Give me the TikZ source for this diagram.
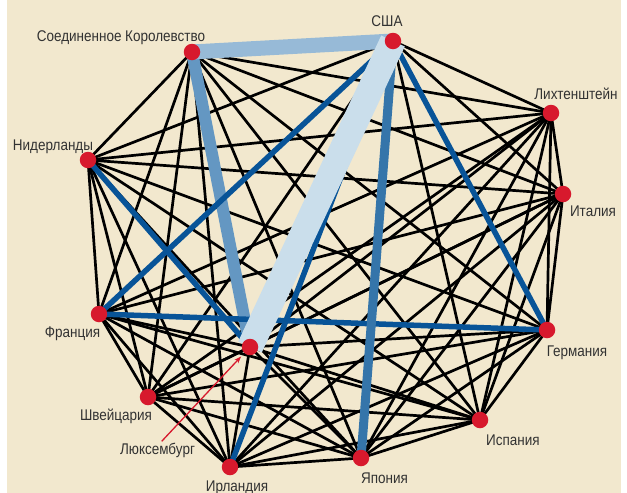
\documentclass[tikz,border=0pt]{standalone}
\usepackage{fontspec}
\setmainfont[FakeStretch=0.87]{Liberation Sans}
\usetikzlibrary{arrows.meta}
\definecolor{bgbeige}{RGB}{242,232,206}
\definecolor{dotred}{RGB}{215,25,45}
\definecolor{bandA}{RGB}{151,186,215}
\definecolor{bandB}{RGB}{100,151,194}
\definecolor{bandC}{RGB}{202,222,235}
\definecolor{darkblue}{RGB}{8,84,152}
\definecolor{midblue}{RGB}{53,117,170}
\definecolor{txt}{RGB}{50,50,50}
\pgfdeclarelayer{edgelayer}
\pgfdeclarelayer{backlayer}
\pgfsetlayers{backlayer,edgelayer,main}
\begin{document}
\begin{tikzpicture}[x=1pt,y=-1pt,
  dot/.style={circle,fill=dotred,inner sep=0pt,minimum size=16.5pt},
  lbl/.style={text=txt,font=\fontsize{15.5}{16}\selectfont,inner sep=0pt,anchor=base},
  blackedge/.style={black,line width=2.7pt},
  blueedge/.style={darkblue,line width=5.5pt},
  jpedge/.style={midblue,line width=9pt},
  bandUKUS/.style={bandA,line width=15pt},
  bandUKLU/.style={bandB,line width=12pt},
  bandUSLU/.style={bandC,line width=26pt},
  pointer/.style={dotred,line width=1.3pt,-{Stealth[length=7pt,width=5pt]},shorten >=4.5pt}
]
\useasboundingbox (0,0) rectangle (627,493);
\begin{pgfonlayer}{backlayer}
\fill[white] (0,0) rectangle (627,493);
\fill[bgbeige] (7,0) rectangle (621,493);
\end{pgfonlayer}

% nodes
\node[dot] (us) at (393,41) {};
\node[dot] (uk) at (192,52) {};
\node[dot] (li) at (551,113) {};
\node[dot] (it) at (563,194) {};
\node[dot] (nl) at (88,160) {};
\node[dot] (fr) at (99,314) {};
\node[dot] (lu) at (250,347) {};
\node[dot] (ch) at (148,397) {};
\node[dot] (ie) at (230,467) {};
\node[dot] (jp) at (361,458) {};
\node[dot] (es) at (480,420) {};
\node[dot] (de) at (547,330) {};

\begin{pgfonlayer}{edgelayer}
\foreach \a/\b in {uk/li,uk/it,uk/nl,uk/fr,uk/ch,uk/ie,uk/jp,uk/es,uk/de,
  us/li,us/it,us/nl,us/ch,us/es,
  li/it,li/nl,li/fr,li/lu,li/ch,li/ie,li/jp,li/es,li/de,
  it/nl,it/fr,it/lu,it/ch,it/ie,it/jp,it/es,it/de,
  nl/fr,nl/ch,nl/ie,nl/jp,nl/es,nl/de,
  fr/lu,fr/ch,fr/ie,fr/jp,fr/es,
  lu/ch,lu/ie,lu/jp,lu/es,lu/de,
  ch/ie,ch/jp,ch/es,ch/de,
  ie/jp,ie/es,ie/de,
  jp/es,jp/de,
  es/de}
  \draw[blackedge] (\a.center) -- (\b.center);
\draw[bandUKLU] (uk.center) -- (lu.center);
\draw[bandUKUS] (uk.center) -- (us.center);
\foreach \a/\b in {us/fr,us/de,us/ie,nl/lu,fr/de}
  \draw[blueedge] (\a.center) -- (\b.center);
\draw[jpedge] (us.center) -- (jp.center);
\draw[bandUSLU] (us.center) -- (lu.center);
\end{pgfonlayer}

% labels
\node[lbl] (luk) at (121,41) {Соединенное Королевство};
\node[lbl] (lus) at (387,26) {США};
\node[lbl] (lli) at (576,99) {Лихтенштейн};
\node[lbl] (lit) at (593,216) {Италия};
\node[lbl] (lnl) at (53,150) {Нидерланды};
\node[lbl] (lfr) at (72.5,337.5) {Франция};
\node[lbl] (lch) at (116,420.5) {Швейцария};
\node[lbl] (llu) at (157.5,454.5) {Люксембург};
\node[lbl] (lie) at (237,491.5) {Ирландия};
\node[lbl] (ljp) at (384.5,483.5) {Япония};
\node[lbl] (les) at (513,445) {Испания};
\node[lbl] (lde) at (577,356) {Германия};

\coordinate (arrstart) at (161.7,441.3);
\draw[pointer] (arrstart) -- (lu);
\end{tikzpicture}
\end{document}
